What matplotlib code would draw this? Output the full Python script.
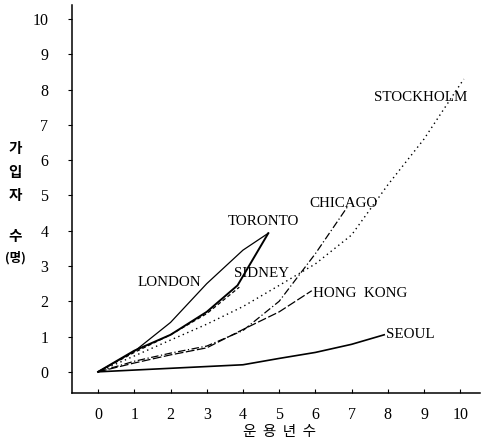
import matplotlib
matplotlib.use('Agg')
import matplotlib.pyplot as plt

# 도시별 가입자 수 (운용년수 기준)
london_x = [0, 1, 2, 3, 4, 4.7]
london_y = [0, 0.58, 1.4, 2.5, 3.45, 3.93]
toronto_x = [0, 1, 2, 3, 3.85, 4.7]
toronto_y = [0, 0.6, 1.05, 1.7, 2.45, 3.93]
sidney_x = [0, 1, 2, 3, 3.9]
sidney_y = [0, 0.55, 1.05, 1.65, 2.4]
stockholm_x = [0, 1, 2, 3, 4, 5, 6, 7, 8, 9, 10, 10.1]
stockholm_y = [0, 0.45, 0.9, 1.35, 1.85, 2.45, 3.06, 3.88, 5.3, 6.6, 8.15, 8.3]
chicago_x = [0, 1, 2, 3, 4, 5, 6, 6.9]
chicago_y = [0, 0.3, 0.53, 0.73, 1.17, 2.0, 3.35, 4.7]
hongkong_x = [0, 1, 2, 3, 4, 5, 5.9]
hongkong_y = [0, 0.25, 0.48, 0.68, 1.2, 1.7, 2.3]
seoul_x = [0, 1, 2, 3, 4, 5, 6, 7, 7.9]
seoul_y = [0, 0.05, 0.1, 0.15, 0.2, 0.38, 0.55, 0.78, 1.05]

xticks = list(range(0, 11))
yticks = list(range(0, 11))

serif = 'Liberation Serif'
kr = 'Noto Sans CJK KR'

fig = plt.figure(figsize=(4.85, 4.48), dpi=100)
ax = fig.add_axes([0.1485, 0.1228, 0.8415, 0.866])

k = 'black'
ax.plot(london_x, london_y, color=k, lw=0.9, ls='-')
ax.plot(toronto_x, toronto_y, color=k, lw=1.4, ls='-')
ax.plot(sidney_x, sidney_y, color=k, lw=0.9, ls=(0, (3, 2)))
ax.plot(stockholm_x, stockholm_y, color=k, lw=1.0, ls=(0, (1, 2.5)))
ax.plot(chicago_x, chicago_y, color=k, lw=0.9, ls=(0, (6, 2, 1, 2)))
ax.plot(hongkong_x, hongkong_y, color=k, lw=0.9, ls=(0, (7, 2)))
ax.plot(seoul_x, seoul_y, color=k, lw=1.2, ls='-')

lab = dict(fontsize=10.8, family=serif, color=k, va='center', ha='left')
ax.text(7.62, 7.79, 'STOCKHOLM', **lab)
ax.text(5.83, 4.76, 'CHICAGO', **lab)
ax.text(3.59, 4.25, 'TORONTO', **lab)
ax.text(3.76, 2.8, 'SIDNEY', **lab)
ax.text(1.1, 2.52, 'LONDON', **lab)
ax.text(5.94, 2.21, 'HONG  KONG', **lab)
ax.text(7.96, 1.05, 'SEOUL', **lab)

ax.set_xlim(-0.72, 10.55)
ax.set_ylim(-0.6, 10.4)
ax.set_xticks(xticks)
ax.set_yticks(yticks)
ax.set_xticklabels([str(v) for v in xticks], family=serif, fontsize=11.5)
ax.set_yticklabels([str(v) for v in yticks], family=serif, fontsize=11.5)
ax.tick_params(axis='x', direction='in', length=3, pad=10)
ax.tick_params(axis='y', direction='out', length=3, pad=14)
for s in ['top', 'right']:
    ax.spines[s].set_visible(False)
ax.spines['left'].set_linewidth(1.1)
ax.spines['bottom'].set_linewidth(1.1)

# 축 제목
fig.text(280 / 485, 1 - 432 / 448, '운  용  년  수', family=kr, fontsize=10.5,
         ha='center', va='center')
for ch, py in [('가', 148), ('입', 172), ('자', 195), ('수', 236), ('(명)', 258)]:
    fig.text(15 / 485, 1 - py / 448, ch, family=kr, fontsize=10.5 if ch != '(명)' else 9,
             ha='center', va='center', fontweight='bold')

fig.savefig('out.png', dpi=100)
